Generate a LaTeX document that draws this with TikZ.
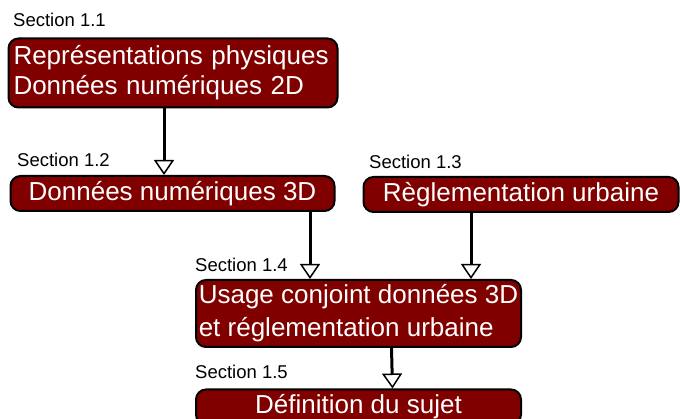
\documentclass[tikz,border=0pt]{standalone}
\usepackage{fontspec}
\setmainfont{Liberation Sans}
\usetikzlibrary{arrows.meta}
\definecolor{darkRed}{HTML}{800000}
\newcommand{\boxFont}[0]{\fontsize{26}{30}\selectfont}
\newcommand{\labelFont}[0]{\fontsize{18.5}{20}\selectfont}

\begin{document}
\begin{tikzpicture}[x=1pt, y=-1pt]
  \tikzset{sectionBox/.style={draw=black, line width=2pt, fill=darkRed,
      rounded corners=10pt, text=white, font=\boxFont, inner sep=0pt,
      minimum height=35pt},
    sectionLabel/.style={anchor=west, inner sep=0pt, font=\labelFont},
    flowArrow/.style={line width=3pt,
      -{Triangle[fill=white, width=20pt, length=15pt, line width=1.5pt]}}}
  \useasboundingbox (0,0) rectangle (680,419);

  % boxes
  \node[sectionBox, minimum width=329pt, minimum height=69pt,
    text width=319pt, align=left] (repr) at (173,73)
    {Représentations physiques\\Données numériques 2D};
  \node[sectionBox, minimum width=324pt] (donnees3d) at (172.5,193.5)
    {Données numériques 3D};
  \node[sectionBox, minimum width=315pt] (regl) at (521,194.5)
    {Règlementation urbaine};
  \node[sectionBox, minimum width=325pt, minimum height=67pt,
    align=left] (usage) at (358.5,313.5)
    {Usage conjoint données 3D\\[3pt]et réglementation urbaine};
  \node[sectionBox, minimum width=325pt] (sujet) at (358.5,407)
    {Définition du sujet};

  % section labels
  \node[sectionLabel] (sec11) at (13,20) {Section 1.1};
  \node[sectionLabel] (sec12) at (17,160) {Section 1.2};
  \node[sectionLabel] (sec13) at (369,162) {Section 1.3};
  \node[sectionLabel] (sec14) at (195,265) {Section 1.4};
  \node[sectionLabel] (sec15) at (195,372) {Section 1.5};

  % arrows
  \draw[flowArrow] ([xshift=-9pt]repr.south) -- ([xshift=-8.5pt]donnees3d.north);
  \draw[flowArrow] ([xshift=137.5pt]donnees3d.south) -- ([xshift=-48.5pt]usage.north);
  \draw[flowArrow] ([xshift=-50pt]regl.south) -- ([xshift=112.5pt]usage.north);
  \draw[flowArrow] ([xshift=33pt]usage.south) -- ([xshift=34pt]sujet.north);
\end{tikzpicture}
\end{document}
